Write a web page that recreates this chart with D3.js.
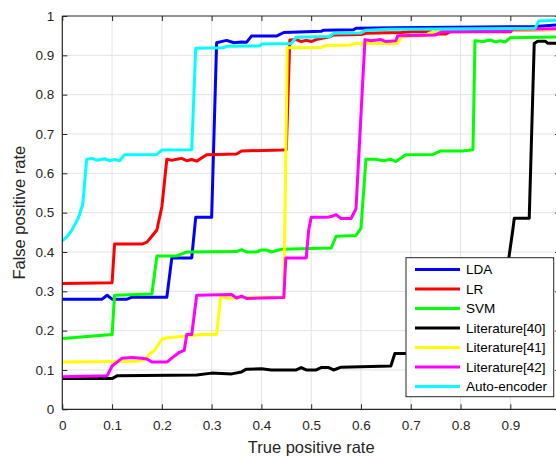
<!DOCTYPE html>
<html>
<head>
<meta charset="utf-8">
<script src="https://cdn.jsdelivr.net/npm/d3@7/dist/d3.min.js"></script>
<style>
  html, body { margin: 0; padding: 0; background: #fff; }
  svg { display: block; font-family: "Liberation Sans", Arial, Helvetica, sans-serif; }
</style>
</head>
<body>
<svg id="chart" width="556" height="456"></svg>
<script>
// ROC-style curves for seven classifiers
const seriesNames = ["LDA", "LR", "SVM", "Literature[40]", "Literature[41]", "Literature[42]", "Auto-encoder"];
const seriesColors = ["#0000ff", "#ff0000", "#00ff00", "#000000", "#ffff00", "#ff00ff", "#00ffff"];
const xTicks = [0, 0.1, 0.2, 0.3, 0.4, 0.5, 0.6, 0.7, 0.8, 0.9, 1];
const yTicks = [0, 0.1, 0.2, 0.3, 0.4, 0.5, 0.6, 0.7, 0.8, 0.9, 1];

const ldaX = [0, 0.08, 0.09, 0.10, 0.13, 0.14, 0.21, 0.22, 0.26, 0.268, 0.30, 0.31, 0.33, 0.345, 0.36, 0.37, 0.38, 0.43, 0.445, 0.52, 0.525, 0.585, 0.59, 0.67, 0.95, 1.0];
const ldaY = [0.28, 0.28, 0.29, 0.28, 0.28, 0.285, 0.285, 0.385, 0.385, 0.488, 0.488, 0.932, 0.938, 0.932, 0.934, 0.933, 0.949, 0.949, 0.958, 0.961, 0.964, 0.965, 0.969, 0.970, 0.973, 0.978];

const lrX = [0, 0.1, 0.105, 0.16, 0.17, 0.18, 0.19, 0.2, 0.21, 0.22, 0.23, 0.24, 0.25, 0.26, 0.27, 0.29, 0.35, 0.36, 0.44, 0.45, 0.457, 0.47, 0.48, 0.49, 0.5, 0.51, 0.537, 0.545, 0.6, 0.61, 0.68, 0.7, 0.74, 0.75, 0.77, 0.78, 0.9, 0.905, 1.0];
const lrY = [0.32, 0.322, 0.42, 0.42, 0.425, 0.44, 0.456, 0.515, 0.636, 0.633, 0.636, 0.638, 0.632, 0.635, 0.631, 0.647, 0.649, 0.657, 0.659, 0.66, 0.939, 0.94, 0.935, 0.938, 0.935, 0.94, 0.947, 0.952, 0.953, 0.956, 0.958, 0.96, 0.96, 0.954, 0.954, 0.96, 0.96, 0.964, 0.966];

const svmX = [0, 0.1, 0.105, 0.18, 0.19, 0.23, 0.24, 0.25, 0.35, 0.36, 0.37, 0.39, 0.40, 0.41, 0.42, 0.44, 0.54, 0.55, 0.59, 0.6, 0.61, 0.63, 0.645, 0.66, 0.67, 0.69, 0.745, 0.76, 0.805, 0.825, 0.829, 0.845, 0.86, 0.87, 0.88, 0.89, 0.9, 1.0];
const svmY = [0.18, 0.19, 0.29, 0.293, 0.39, 0.39, 0.395, 0.40, 0.401, 0.406, 0.40, 0.40, 0.405, 0.405, 0.40, 0.407, 0.41, 0.44, 0.442, 0.46, 0.636, 0.636, 0.632, 0.636, 0.63, 0.647, 0.648, 0.657, 0.657, 0.66, 0.937, 0.935, 0.939, 0.934, 0.937, 0.934, 0.945, 0.947];

const lit40X = [0, 0.1, 0.11, 0.27, 0.3, 0.34, 0.36, 0.37, 0.4, 0.42, 0.47, 0.48, 0.49, 0.51, 0.52, 0.535, 0.545, 0.56, 0.6, 0.66, 0.668, 0.69, 0.75, 0.8, 0.85, 0.88, 0.897, 0.905, 0.908, 0.938, 0.948, 0.955, 0.97, 0.975, 1.0];
const lit40Y = [0.078, 0.078, 0.085, 0.087, 0.092, 0.09, 0.095, 0.102, 0.103, 0.10, 0.10, 0.106, 0.10, 0.10, 0.106, 0.106, 0.10, 0.107, 0.108, 0.11, 0.142, 0.142, 0.145, 0.16, 0.22, 0.32, 0.385, 0.456, 0.486, 0.486, 0.93, 0.936, 0.936, 0.931, 0.931];

const lit41X = [0, 0.15, 0.165, 0.175, 0.185, 0.2, 0.21, 0.24, 0.28, 0.31, 0.318, 0.33, 0.35, 0.36, 0.445, 0.452, 0.52, 0.53, 0.58, 0.585, 0.672, 0.682, 0.73, 0.736, 0.75, 1.0];
const lit41Y = [0.12, 0.122, 0.125, 0.14, 0.15, 0.178, 0.182, 0.185, 0.19, 0.19, 0.288, 0.283, 0.283, 0.285, 0.285, 0.919, 0.92, 0.925, 0.926, 0.93, 0.93, 0.947, 0.95, 0.956, 0.96, 0.966];

const lit42X = [0, 0.09, 0.1, 0.11, 0.12, 0.14, 0.16, 0.17, 0.18, 0.21, 0.22, 0.235, 0.245, 0.25, 0.26, 0.27, 0.34, 0.35, 0.36, 0.37, 0.445, 0.449, 0.49, 0.495, 0.5, 0.53, 0.54, 0.55, 0.56, 0.58, 0.59, 0.608, 0.62, 0.64, 0.65, 0.67, 0.674, 0.75, 0.762, 0.9, 0.905, 1.0];
const lit42Y = [0.083, 0.085, 0.11, 0.12, 0.13, 0.132, 0.13, 0.128, 0.12, 0.12, 0.13, 0.145, 0.15, 0.19, 0.19, 0.29, 0.292, 0.283, 0.288, 0.282, 0.284, 0.385, 0.385, 0.456, 0.488, 0.488, 0.49, 0.495, 0.485, 0.485, 0.51, 0.94, 0.937, 0.94, 0.935, 0.937, 0.95, 0.952, 0.96, 0.961, 0.966, 0.968];

const aeX = [0, 0.01, 0.019, 0.032, 0.041, 0.049, 0.06, 0.07, 0.085, 0.095, 0.105, 0.115, 0.125, 0.19, 0.2, 0.26, 0.268, 0.323, 0.33, 0.397, 0.40, 0.46, 0.47, 0.537, 0.545, 0.6, 0.61, 0.66, 0.95, 0.957, 1.0];
const aeY = [0.428, 0.44, 0.455, 0.486, 0.52, 0.636, 0.638, 0.633, 0.637, 0.632, 0.635, 0.632, 0.647, 0.648, 0.659, 0.66, 0.918, 0.919, 0.923, 0.924, 0.929, 0.93, 0.946, 0.948, 0.956, 0.957, 0.964, 0.966, 0.969, 0.987, 0.99];

const seriesX = [ldaX, lrX, svmX, lit40X, lit41X, lit42X, aeX];
const seriesY = [ldaY, lrY, svmY, lit40Y, lit41Y, lit42Y, aeY];

const svg = d3.select("#chart");
const plotLeft = 62.3, plotRight = 560.1, plotTop = 16, plotBottom = 409.3;
const axisColor = "#262626";
const gridColor = "#e3e3e3";
const tickLen = 5;

const x = d3.scaleLinear().domain([0, 1]).range([plotLeft, plotRight]);
const y = d3.scaleLinear().domain([0, 1]).range([plotBottom, plotTop]);

// grid
const grid = svg.append("g");
grid.selectAll(".gx").data(xTicks.slice(1, -1)).enter().append("line")
  .attr("x1", d => x(d)).attr("x2", d => x(d)).attr("y1", plotTop).attr("y2", plotBottom)
  .attr("stroke", gridColor).attr("stroke-width", 1);
grid.selectAll(".gy").data(yTicks.slice(1, -1)).enter().append("line")
  .attr("x1", plotLeft).attr("x2", plotRight).attr("y1", d => y(d)).attr("y2", d => y(d))
  .attr("stroke", gridColor).attr("stroke-width", 1);

// curves
const line = d3.line().x(d => x(d[0])).y(d => y(d[1]));
seriesNames.forEach((name, i) => {
  const pts = seriesX[i].map((v, j) => [v, seriesY[i][j]]);
  svg.append("path").datum(pts)
    .attr("d", line)
    .attr("fill", "none")
    .attr("stroke", seriesColors[i])
    .attr("stroke-width", 3)
    .attr("stroke-linejoin", "round");
});

// axes with inward ticks on all four sides
const bottomAxis = d3.axisBottom(x).tickValues(xTicks.slice(0, -1)).tickSize(-tickLen).tickPadding(11.5)
  .tickFormat(d3.format("~g"));
const leftAxis = d3.axisLeft(y).tickValues(yTicks).tickSize(-tickLen).tickPadding(8)
  .tickFormat(d3.format("~g"));
const topAxis = d3.axisTop(x).tickValues(xTicks).tickSize(-tickLen).tickFormat("");
const rightAxis = d3.axisRight(y).tickValues(yTicks).tickSize(-tickLen).tickFormat("");

function style(g) {
  g.select(".domain").attr("stroke", axisColor).attr("stroke-width", 1.2);
  g.selectAll(".tick line").attr("stroke", axisColor);
  g.selectAll(".tick text").attr("fill", axisColor).style("font-size", "13.5px")
    .style("font-family", "'Liberation Sans', Arial, sans-serif");
}
svg.append("g").attr("transform", `translate(0,${plotBottom})`).call(bottomAxis).call(style)
  .call(g => g.select(".domain").attr("d", `M${plotLeft},0H${plotRight}`));
svg.append("g").attr("transform", `translate(${plotLeft},0)`).call(leftAxis).call(style)
  .call(g => g.select(".domain").attr("d", `M0,${plotBottom}V${plotTop}`));
svg.append("g").attr("transform", `translate(0,${plotTop})`).call(topAxis).call(style)
  .call(g => g.select(".domain").attr("d", `M${plotLeft},0H${plotRight}`));
svg.append("g").attr("transform", `translate(${plotRight},0)`).call(rightAxis).call(style)
  .call(g => g.select(".domain").attr("d", `M0,${plotBottom}V${plotTop}`));

// axis titles
svg.append("text")
  .attr("x", (plotLeft + plotRight) / 2).attr("y", 452.5)
  .attr("text-anchor", "middle").attr("fill", axisColor)
  .style("font-size", "16.5px")
  .text("True positive rate");
svg.append("text")
  .attr("transform", `translate(25,${(plotTop + plotBottom) / 2}) rotate(-90)`)
  .attr("text-anchor", "middle").attr("fill", axisColor)
  .style("font-size", "16.5px")
  .text("False positive rate");

// legend
const lg = svg.append("g");
const lgX = 406, lgY = 257.7, lgW = 147.7, lgH = 139, rowH = 19.5;
lg.append("rect").attr("x", lgX).attr("y", lgY).attr("width", lgW).attr("height", lgH)
  .attr("fill", "#fff").attr("stroke", axisColor).attr("stroke-width", 1);
seriesNames.forEach((name, i) => {
  const cy = lgY + 11.8 + i * rowH;
  lg.append("line").attr("x1", 415).attr("x2", 460).attr("y1", cy).attr("y2", cy)
    .attr("stroke", seriesColors[i]).attr("stroke-width", 3);
  lg.append("text").attr("x", 466).attr("y", cy).attr("dy", "0.36em")
    .attr("fill", "#000").style("font-size", "13.5px").text(name);
});
</script>
</body>
</html>
